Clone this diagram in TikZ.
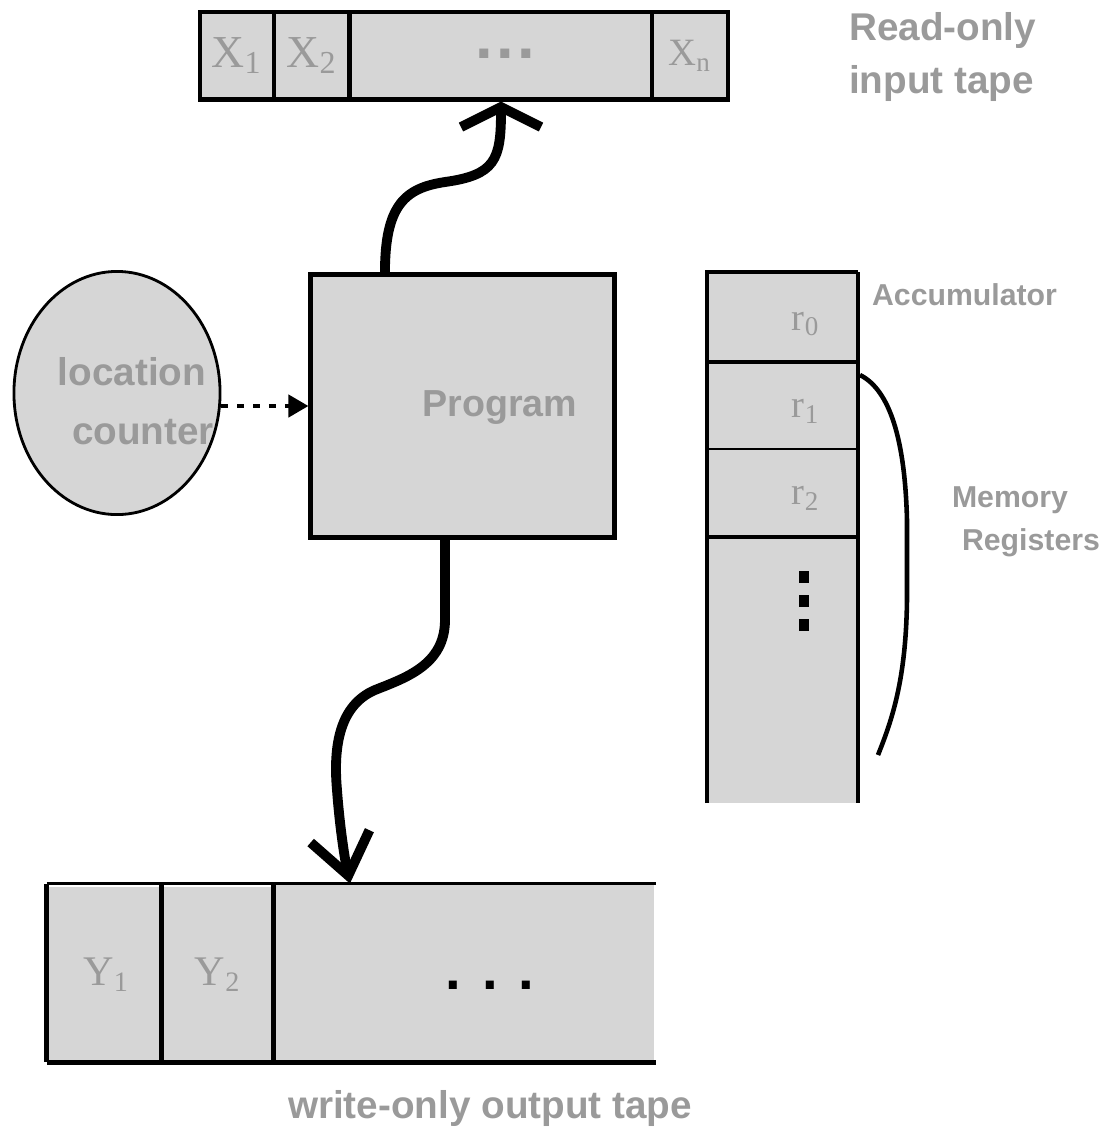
\documentclass[tikz,border=0pt]{standalone}
\usepackage{fontspec}
\setmainfont{Liberation Serif}
\setsansfont{Liberation Sans}
\usetikzlibrary{arrows.meta,shapes.geometric}
\definecolor{cellgray}{HTML}{D6D6D6}
\definecolor{labelgray}{HTML}{9A9A9A}

\begin{document}
\begin{tikzpicture}[x=0.01cm, y=-0.01cm, thick,
		tapecell/.style={draw, fill=cellgray, line width=1.4pt, inner sep=0pt, minimum height=0.87cm},
		graytext/.style={text=labelgray, font=\sffamily\bfseries\fontsize{11}{15}\selectfont},
		smalltext/.style={text=labelgray, font=\sffamily\bfseries\fontsize{8.6}{11}\selectfont},
		cellsym/.style={text=labelgray, font=\fontsize{13}{13}\selectfont},
		squiggle/.style={line width=2.8pt}]
	\useasboundingbox (0,0) rectangle (1101,1129);
	
	% read-only input tape
	\node[tapecell, minimum width=0.74cm, cellsym] (x1) at (237,55.5) {X\textsubscript{1}};
	\node[tapecell, minimum width=0.76cm, cellsym] (x2) at (312,55.5) {X\textsubscript{2}};
	\node[tapecell, minimum width=3.02cm] (xdots) at (501,55.5) {};
	\node[tapecell, minimum width=0.76cm, cellsym, font=\fontsize{11}{11}\selectfont] (xn) at (690,55.5) {X\textsubscript{n}};
	\node[text=labelgray, font=\sffamily\bfseries\fontsize{18}{18}\selectfont] (xell) at (505,54) {.\kern1pt.\kern1pt.};
	\node[graytext, anchor=west, align=left] (intitle) at (836,57) {Read-only\\input tape};
	
	% program and location counter
	\node[tapecell, minimum width=3.03cm, minimum height=2.62cm] (prog) at (462.5,406) {};
	\node[graytext, font=\sffamily\bfseries\fontsize{10.7}{14}\selectfont] (progtext) at (500,408) {Program};
	\node[ellipse, draw, fill=cellgray, line width=0.8pt, inner sep=0pt, minimum width=2.06cm, minimum height=2.43cm] (lc) at (117,393) {};
	\node[graytext] (lctop) at (132,372) {location};
	\node[graytext] (lcbot) at (143,432) {counter};
	\draw[line width=1.2pt, dash pattern=on 2pt off 2.5pt, -{Triangle[length=0.2cm, width=0.22cm]}] (lc.east |- prog.west) -- (prog.west);
	
	% memory registers
	\fill[cellgray] (707,272) rectangle (858,803);
	\draw[line width=1.4pt] (707,803) -- (707,272) -- (858,272);
	\draw[line width=0.9pt] (858,272) -- (858,803);
	\foreach \y in {362,537}
	\draw[line width=1.4pt] (707,\y) -- (858,\y);
	\draw[line width=0.6pt] (707,449) -- (858,449);
	\node[cellsym, font=\fontsize{11}{11}\selectfont] (r0) at (806,324) {r\textsubscript{0}};
	\node[cellsym, font=\fontsize{11}{11}\selectfont] (r1) at (806,411) {r\textsubscript{1}};
	\node[cellsym, font=\fontsize{11}{11}\selectfont] (r2) at (806,498) {r\textsubscript{2}};
	\foreach \y in {577,601,625}
	\fill (799,\y-6) rectangle (809,\y+6);
	\node[smalltext, anchor=west] (acc) at (859,295) {Accumulator};
	\coordinate (brtop) at (860,375);
	\coordinate (brbot) at (878,755);
	\draw[line width=1.3pt] (brtop) .. controls (890,390) and (905,440) .. (907,520) -- (907,600) .. controls (906,680) and (892,720) .. (brbot);
	\node[smalltext] (memtop) at (1010,500) {Memory};
	\node[smalltext] (membot) at (1031,543) {Registers};
	
	% write-only output tape
	\node[fill=cellgray, inner sep=0pt, minimum width=1.17cm, minimum height=1.76cm, cellsym, font=\fontsize{12}{12}\selectfont] (y1) at (106.5,975) {Y\textsubscript{1}};
	\node[fill=cellgray, inner sep=0pt, minimum width=1.10cm, minimum height=1.76cm, cellsym, font=\fontsize{12}{12}\selectfont] (y2) at (218,975) {Y\textsubscript{2}};
	\node[fill=cellgray, inner sep=0pt, minimum width=3.79cm, minimum height=1.76cm] (ydots) at (464.5,973) {};
	\node[font=\sffamily\bfseries\fontsize{16}{16}\selectfont] (yell) at (490,985) {.\kern6pt.\kern6pt.};
	\draw[line width=0.9pt] (y1.north west |- ydots.north) -- (ydots.north east);
	\draw[line width=1.5pt] (y1.south west |- ydots.south) -- (ydots.south east);
	\foreach \c in {y1,y2,ydots}
	\draw[line width=1.2pt] (\c.west |- ydots.north) -- (\c.west |- ydots.south);
	\node[graytext] (outtitle) at (490,1108) {write-only output tape};
	
	% program reads and writes
	\draw[squiggle, -{Straight Barb[length=0.2cm, width=0.8cm]}] ([xshift=-0.775cm]prog.north) .. controls (385,205) and (405,188) .. (445,182) .. controls (495,175) and (501,160) .. (xdots.south);
	\draw[squiggle, -{Straight Barb[length=0.4cm, width=0.6cm]}] ([xshift=-0.175cm]prog.south) -- (445,620) .. controls (445,665) and (405,678) .. (375,690) .. controls (340,705) and (333,745) .. (337,790) .. controls (340,830) and (345,860) .. ([xshift=-1.145cm]ydots.north);
	
\end{tikzpicture}
\end{document}
